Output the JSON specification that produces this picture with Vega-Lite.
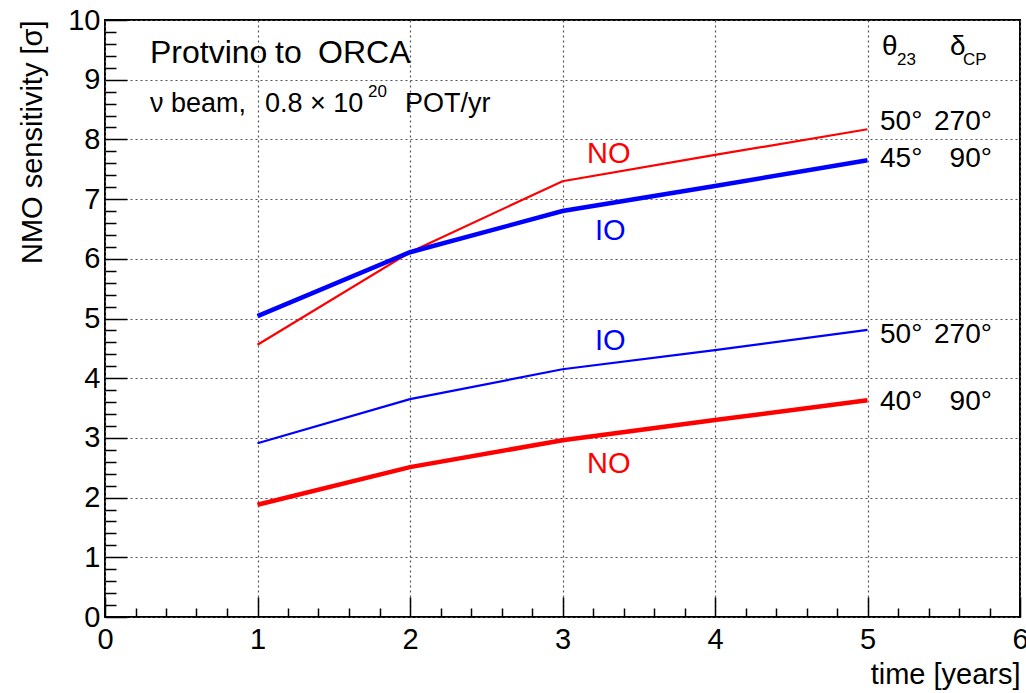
{
  "$schema": "https://vega.github.io/schema/vega-lite/v6.json",
  "width": 915,
  "height": 597,
  "autosize": {"type": "none"},
  "padding": {"left": 105, "top": 20, "right": 6, "bottom": 76},
  "background": "white",
  "config": {
    "font": "Liberation Sans",
    "view": {"stroke": "black", "strokeWidth": 2},
    "axis": {"domain": false, "tickColor": "black", "tickWidth": 1.5, "gridColor": "#555", "gridDash": [2, 3], "gridWidth": 1.2, "labelFont": "Liberation Sans", "titleFont": "Liberation Sans", "labelColor": "black", "titleColor": "black", "titleFontWeight": "normal"}
  },
  "datasets": {
    "curves": [
      {"t": 1, "s": 4.56, "ordering": "NO", "dcp": "270°", "series": "NO 50/270"},
      {"t": 2, "s": 6.11, "ordering": "NO", "dcp": "270°", "series": "NO 50/270"},
      {"t": 3, "s": 7.30, "ordering": "NO", "dcp": "270°", "series": "NO 50/270"},
      {"t": 4, "s": 7.74, "ordering": "NO", "dcp": "270°", "series": "NO 50/270"},
      {"t": 5, "s": 8.17, "ordering": "NO", "dcp": "270°", "series": "NO 50/270"},
      {"t": 1, "s": 5.04, "ordering": "IO", "dcp": "90°", "series": "IO 45/90"},
      {"t": 2, "s": 6.11, "ordering": "IO", "dcp": "90°", "series": "IO 45/90"},
      {"t": 3, "s": 6.80, "ordering": "IO", "dcp": "90°", "series": "IO 45/90"},
      {"t": 4, "s": 7.22, "ordering": "IO", "dcp": "90°", "series": "IO 45/90"},
      {"t": 5, "s": 7.65, "ordering": "IO", "dcp": "90°", "series": "IO 45/90"},
      {"t": 1, "s": 2.91, "ordering": "IO", "dcp": "270°", "series": "IO 50/270"},
      {"t": 2, "s": 3.65, "ordering": "IO", "dcp": "270°", "series": "IO 50/270"},
      {"t": 3, "s": 4.15, "ordering": "IO", "dcp": "270°", "series": "IO 50/270"},
      {"t": 4, "s": 4.47, "ordering": "IO", "dcp": "270°", "series": "IO 50/270"},
      {"t": 5, "s": 4.81, "ordering": "IO", "dcp": "270°", "series": "IO 50/270"},
      {"t": 1, "s": 1.88, "ordering": "NO", "dcp": "90°", "series": "NO 40/90"},
      {"t": 2, "s": 2.51, "ordering": "NO", "dcp": "90°", "series": "NO 40/90"},
      {"t": 3, "s": 2.96, "ordering": "NO", "dcp": "90°", "series": "NO 40/90"},
      {"t": 4, "s": 3.30, "ordering": "NO", "dcp": "90°", "series": "NO 40/90"},
      {"t": 5, "s": 3.63, "ordering": "NO", "dcp": "90°", "series": "NO 40/90"}
    ],
    "title": [
      {"t": 0.295, "s": 9.28, "text": "Protvino"},
      {"t": 1.115, "s": 9.28, "text": "to"},
      {"t": 1.397, "s": 9.28, "text": "ORCA"}
    ],
    "subtitle": [
      {"t": 0.295, "s": 8.46, "text": "ν beam,"},
      {"t": 1.049, "s": 8.46, "text": "0.8 × 10"},
      {"t": 1.967, "s": 8.46, "text": "POT/yr"}
    ],
    "small": [
      {"t": 1.725, "s": 8.71, "text": "20"},
      {"t": 5.193, "s": 9.25, "text": "23"},
      {"t": 5.626, "s": 9.25, "text": "CP"}
    ],
    "header": [
      {"t": 5.095, "s": 9.41, "text": "θ"},
      {"t": 5.541, "s": 9.41, "text": "δ"}
    ],
    "ordlabels": [
      {"t": 3.161, "s": 7.60, "text": "NO", "ordering": "NO"},
      {"t": 3.213, "s": 6.31, "text": "IO", "ordering": "IO"},
      {"t": 3.213, "s": 4.47, "text": "IO", "ordering": "IO"},
      {"t": 3.161, "s": 2.41, "text": "NO", "ordering": "NO"}
    ],
    "theta": [
      {"t": 5.082, "s": 8.16, "text": "50°"},
      {"t": 5.082, "s": 7.54, "text": "45°"},
      {"t": 5.082, "s": 4.59, "text": "50°"},
      {"t": 5.082, "s": 3.47, "text": "40°"}
    ],
    "delta": [
      {"t": 5.816, "s": 8.16, "text": "270°"},
      {"t": 5.816, "s": 7.54, "text": "90°"},
      {"t": 5.816, "s": 4.59, "text": "270°"},
      {"t": 5.816, "s": 3.47, "text": "90°"}
    ]
  },
  "layer": [
    {
      "data": {"name": "curves"},
      "mark": {"type": "line", "clip": true},
      "encoding": {
        "x": {
          "field": "t", "type": "quantitative",
          "scale": {"domain": [0, 6], "nice": false, "zero": false},
          "axis": {
            "values": [0, 0.2, 0.4, 0.6, 0.8, 1, 1.2, 1.4, 1.6, 1.8, 2, 2.2, 2.4, 2.6, 2.8, 3, 3.2, 3.4, 3.6, 3.8, 4, 4.2, 4.4, 4.6, 4.8, 5, 5.2, 5.4, 5.6, 5.8, 6],
            "tickCount": 500,
            "labelExpr": "datum.value % 1 === 0 ? format(datum.value, 'd') : ''",
            "labelFontSize": 29,
            "labelPadding": 28,
            "labelFlush": false,
            "labelOverlap": false,
            "tickSize": {"condition": {"test": "datum.value % 1 === 0", "value": -20}, "value": -9},
            "gridOpacity": {"condition": {"test": "datum.value % 1 === 0", "value": 1}, "value": 0},
            "title": "time [years]",
            "titleFontSize": 29,
            "titleAnchor": "end",
            "titlePadding": -5
          }
        },
        "y": {
          "field": "s", "type": "quantitative",
          "scale": {"domain": [0, 10], "nice": false, "zero": false},
          "axis": {
            "values": [0, 0.2, 0.4, 0.6, 0.8, 1, 1.2, 1.4, 1.6, 1.8, 2, 2.2, 2.4, 2.6, 2.8, 3, 3.2, 3.4, 3.6, 3.8, 4, 4.2, 4.4, 4.6, 4.8, 5, 5.2, 5.4, 5.6, 5.8, 6, 6.2, 6.4, 6.6, 6.8, 7, 7.2, 7.4, 7.6, 7.8, 8, 8.2, 8.4, 8.6, 8.8, 9, 9.2, 9.4, 9.6, 9.8, 10],
            "tickCount": 500,
            "labelExpr": "datum.value % 1 === 0 ? format(datum.value, 'd') : ''",
            "labelFontSize": 29,
            "labelPadding": 27,
            "labelFlush": false,
            "labelOverlap": false,
            "tickSize": {"condition": {"test": "datum.value % 1 === 0", "value": -22}, "value": -11},
            "gridOpacity": {"condition": {"test": "datum.value % 1 === 0", "value": 1}, "value": 0},
            "title": "NMO sensitivity [σ]",
            "titleFontSize": 29,
            "titleAnchor": "end",
            "titlePadding": 20
          }
        },
        "detail": {"field": "series"},
        "color": {"field": "ordering", "type": "nominal", "scale": {"domain": ["NO", "IO"], "range": ["#ff0000", "#0000ff"]}, "legend": null},
        "strokeWidth": {"field": "dcp", "type": "nominal", "scale": {"domain": ["90°", "270°"], "range": [4.5, 2.2]}, "legend": null}
      }
    },
    {
      "data": {"name": "title"},
      "mark": {"type": "text", "align": "left", "baseline": "alphabetic", "fontSize": 32, "color": "black"},
      "encoding": {"x": {"field": "t", "type": "quantitative"}, "y": {"field": "s", "type": "quantitative"}, "text": {"field": "text"}}
    },
    {
      "data": {"name": "subtitle"},
      "mark": {"type": "text", "align": "left", "baseline": "alphabetic", "fontSize": 27, "color": "black"},
      "encoding": {"x": {"field": "t", "type": "quantitative"}, "y": {"field": "s", "type": "quantitative"}, "text": {"field": "text"}}
    },
    {
      "data": {"name": "small"},
      "mark": {"type": "text", "align": "left", "baseline": "alphabetic", "fontSize": 17, "color": "black"},
      "encoding": {"x": {"field": "t", "type": "quantitative"}, "y": {"field": "s", "type": "quantitative"}, "text": {"field": "text"}}
    },
    {
      "data": {"name": "header"},
      "mark": {"type": "text", "align": "left", "baseline": "alphabetic", "fontSize": 28, "color": "black"},
      "encoding": {"x": {"field": "t", "type": "quantitative"}, "y": {"field": "s", "type": "quantitative"}, "text": {"field": "text"}}
    },
    {
      "data": {"name": "ordlabels"},
      "mark": {"type": "text", "align": "left", "baseline": "alphabetic", "fontSize": 29},
      "encoding": {
        "x": {"field": "t", "type": "quantitative"}, "y": {"field": "s", "type": "quantitative"}, "text": {"field": "text"},
        "color": {"field": "ordering", "type": "nominal", "scale": {"domain": ["NO", "IO"], "range": ["#ff0000", "#0000ff"]}, "legend": null}
      }
    },
    {
      "data": {"name": "theta"},
      "mark": {"type": "text", "align": "left", "baseline": "alphabetic", "fontSize": 28, "color": "black"},
      "encoding": {"x": {"field": "t", "type": "quantitative"}, "y": {"field": "s", "type": "quantitative"}, "text": {"field": "text"}}
    },
    {
      "data": {"name": "delta"},
      "mark": {"type": "text", "align": "right", "baseline": "alphabetic", "fontSize": 28, "color": "black"},
      "encoding": {"x": {"field": "t", "type": "quantitative"}, "y": {"field": "s", "type": "quantitative"}, "text": {"field": "text"}}
    }
  ]
}
